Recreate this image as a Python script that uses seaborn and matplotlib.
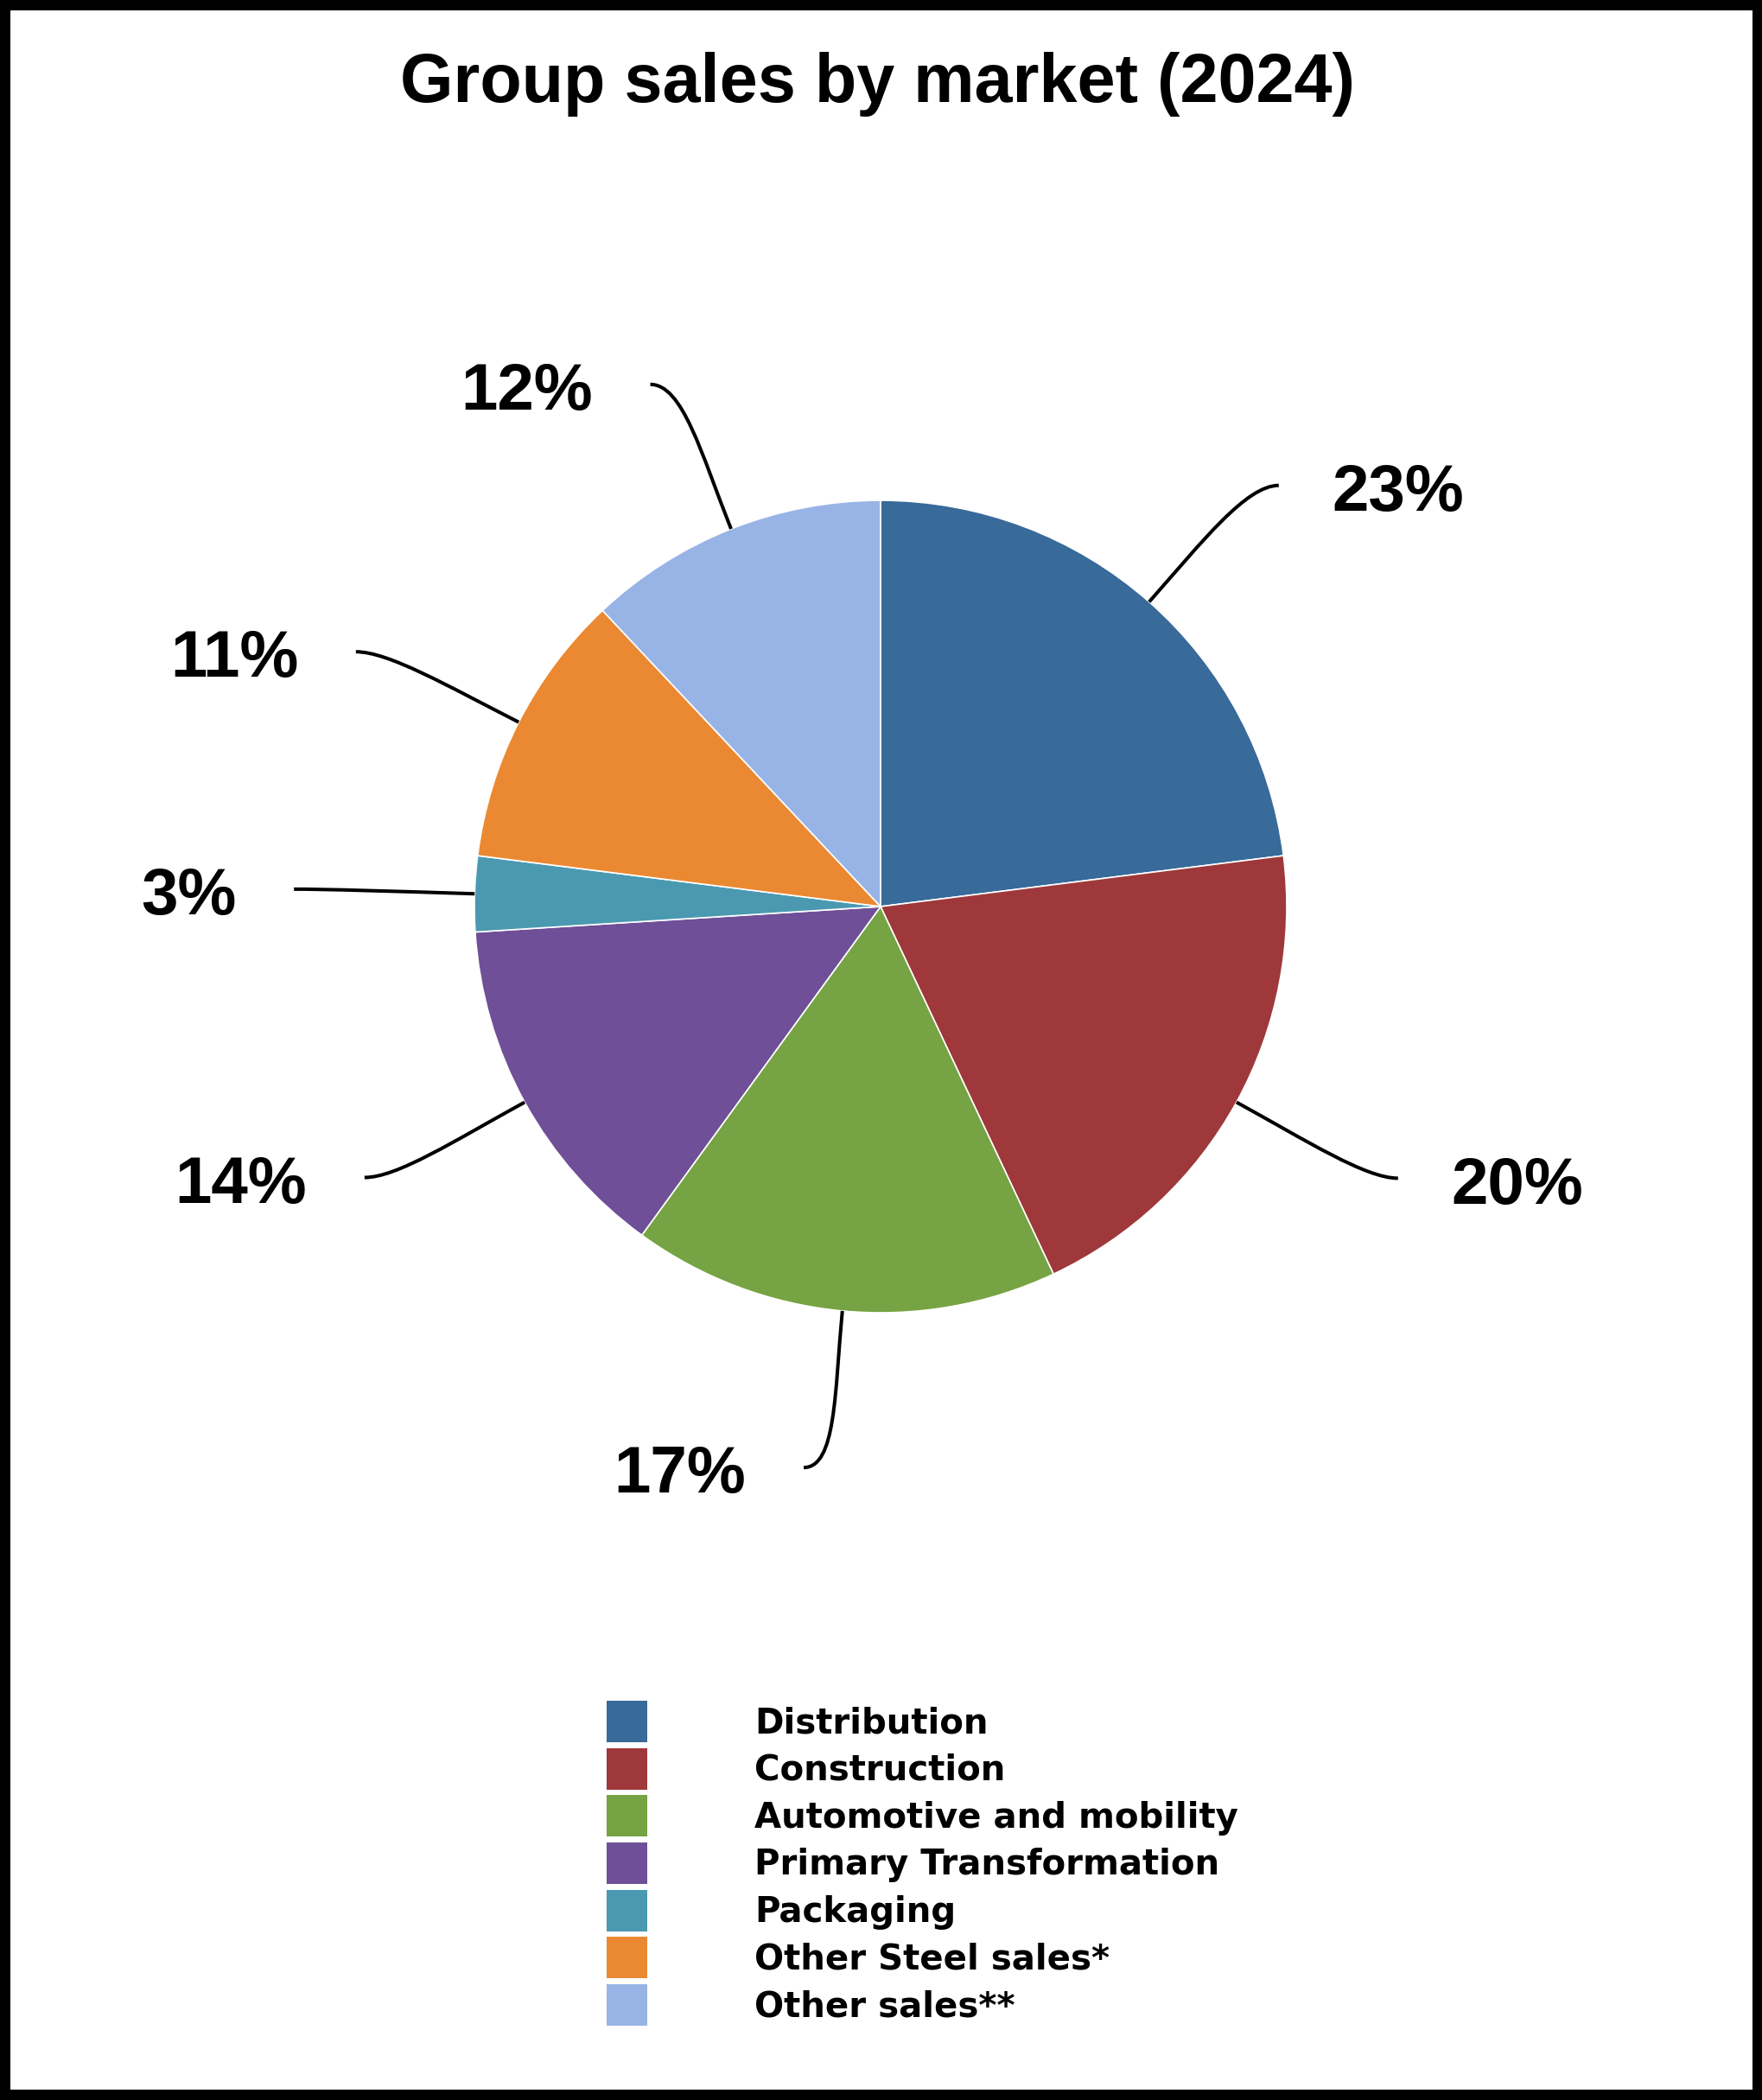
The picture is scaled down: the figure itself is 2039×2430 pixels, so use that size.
"""Group sales by market (2024) - pie chart with curved leader lines."""

import numpy as np
import matplotlib
matplotlib.use("Agg")
import matplotlib.pyplot as plt
import seaborn as sns
from matplotlib.patches import Patch, Rectangle, PathPatch
from matplotlib.path import Path

# Data
markets = [
    "Distribution",
    "Construction",
    "Automotive and mobility",
    "Primary Transformation",
    "Packaging",
    "Other Steel sales*",
    "Other sales**",
]
shares = [23, 20, 17, 14, 3, 11, 12]
colors = ["#386A9A", "#9E383A", "#76A343", "#6F4F97", "#4B99B1", "#EA8932", "#98B4E6"]
title = "Group sales by market (2024)"

# Layout (pixels, measured from top-left of a 2040x2430 canvas)
W, H, DPI = 2040, 2430, 100
CX, CY, R_PX = 1019, 1049, 470
# where each leader line ends: radius (pie radii) and angular nudge (deg)
leader_r = [1.427, 1.439, 1.394, 1.435, 1.445, 1.436, 1.405]
leader_nudge = [-2.0, 1.1, -2.4, -1.1, 0.1, 1.1, 2.2]

sns.set_theme(style="white")
plt.rcParams["font.family"] = ["Liberation Sans", "DejaVu Sans"]
plt.rcParams["text.color"] = "black"

fig = plt.figure(figsize=(W / DPI, H / DPI), dpi=DPI)
fig.patch.set_facecolor("white")
ax = fig.add_axes([0, 0, 1, 1])

wedges, _ = ax.pie(
    shares, colors=colors, startangle=90, counterclock=False, radius=1,
    wedgeprops=dict(edgecolor="white", linewidth=1.2),
)
ax.set_xlim(-CX / R_PX, (W - CX) / R_PX)
ax.set_ylim(-(H - CY) / R_PX, CY / R_PX)
ax.axis("off")

# Percent labels with curved connectors
for wedge, val, lr, nudge in zip(wedges, shares, leader_r, leader_nudge):
    mid = (wedge.theta1 + wedge.theta2) / 2
    rad = np.deg2rad(mid)
    cx, sy = np.cos(rad), np.sin(rad)
    side = 1 if cx > 0 else -1
    end_ang = np.deg2rad(mid + nudge)

    p0 = np.array([cx, sy])
    p3 = lr * np.array([np.cos(end_ang), np.sin(end_ang)])
    p1 = p0 + 0.2 * np.array([cx, sy])
    p2 = p3 - side * np.array([0.08, 0.0])
    path = Path([p0, p1, p2, p3], [Path.MOVETO, Path.CURVE4, Path.CURVE4, Path.CURVE4])
    ax.add_patch(PathPatch(path, fill=False, edgecolor="black", linewidth=2.9,
                           capstyle="butt"))

    ax.annotate(
        f"{val}%", xy=p3, xytext=(44 if side > 0 else -48, -21),
        textcoords="offset points",
        ha="left" if side > 0 else "right", va="baseline",
        fontsize=55, fontweight="bold", color="black",
    )

fig.text(1016 / W, 1 - 118 / H, title, ha="center", va="baseline",
         fontsize=57, fontweight="bold", color="black")

handles = [Patch(facecolor=c, edgecolor="none") for c in colors]
fig.legend(
    handles, markets, loc="upper left", bbox_to_anchor=(702 / W, 1 - 1968 / H),
    frameon=False, borderpad=0, borderaxespad=0,
    handlelength=1.17, handleheight=1.45, handletextpad=3.08, labelspacing=0.17,
    labelcolor="black",
    prop=dict(family=["DejaVu Sans"], weight="bold", size=29),
)

# Thick black frame round the whole picture
fig.patches.append(Rectangle((0, 0), 1, 1, transform=fig.transFigure, fill=False,
                             edgecolor="black", linewidth=17.3))

fig.savefig("out.png", dpi=DPI, facecolor="white")
